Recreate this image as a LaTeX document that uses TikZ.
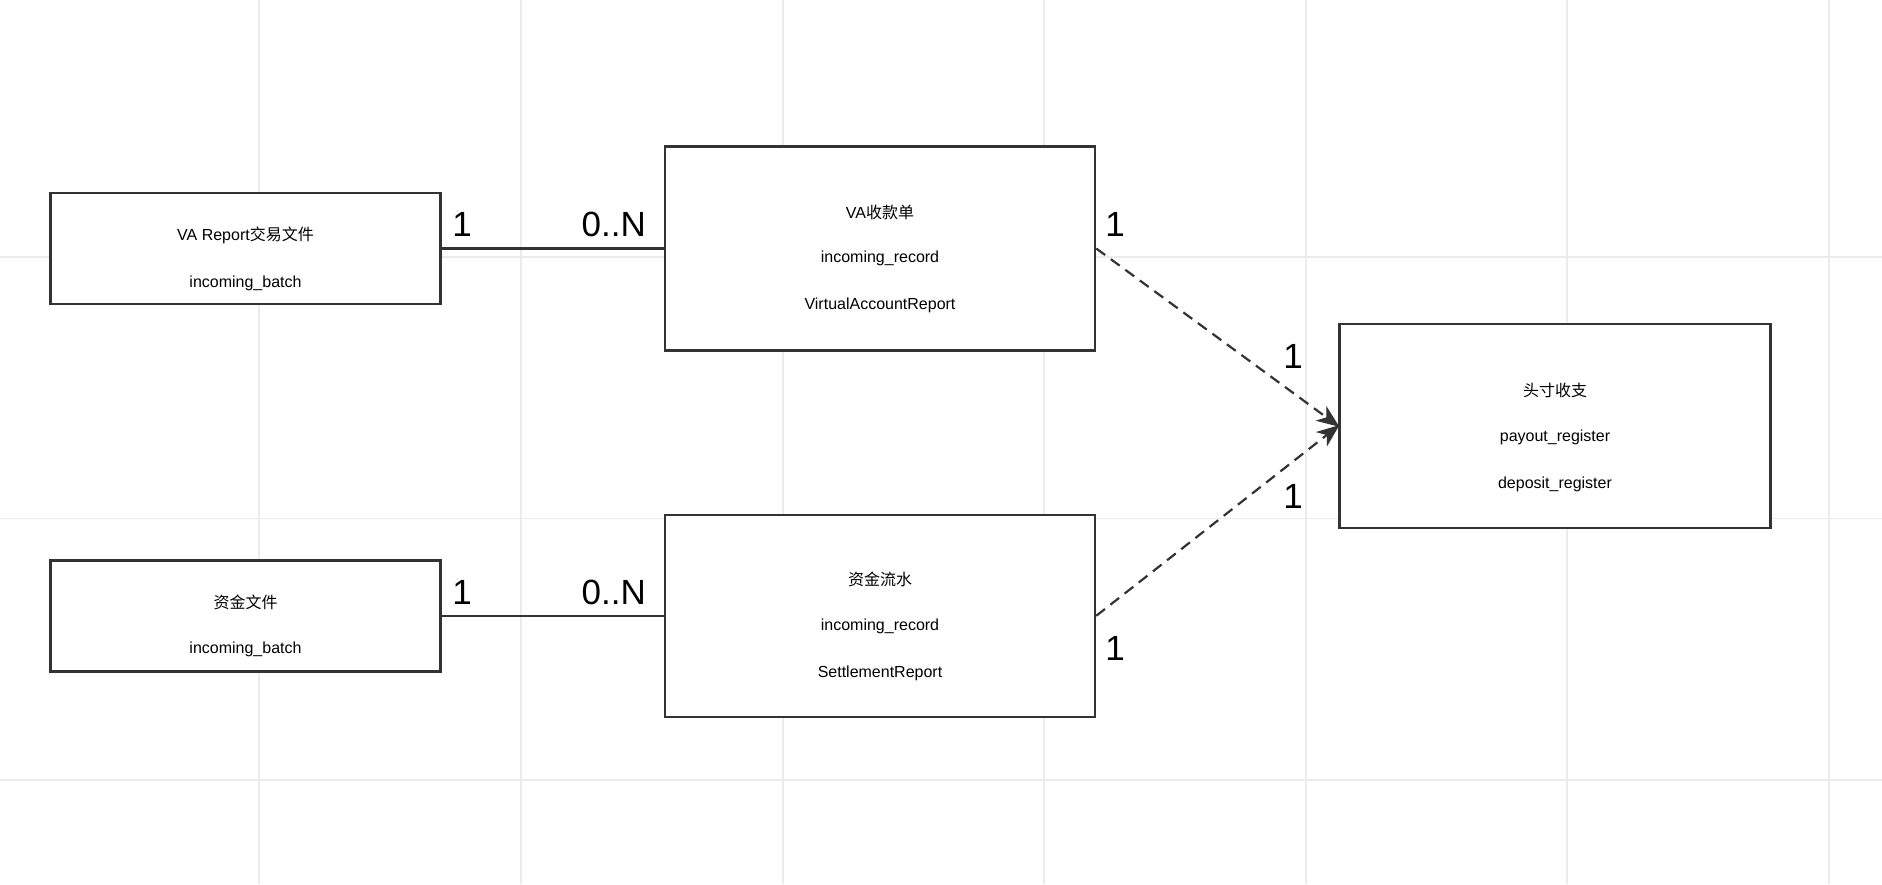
\documentclass[tikz,border=0pt]{standalone}
\usepackage{fontspec}
\setmainfont{Liberation Sans}
\newfontfamily\cjk{Noto Sans CJK SC}
\usetikzlibrary{calc}
\definecolor{gridc}{HTML}{EBEBEB}
\definecolor{linec}{HTML}{333333}
\tikzset{
  entity/.style={draw=linec, line width=2.5pt, fill=white, inner sep=0pt, minimum width=390pt},
  txt/.style={font=\fontsize{16}{19}\selectfont, text=black, inner sep=0pt},
  mult/.style={font=\fontsize{35}{40}\selectfont, text=black, inner sep=0pt},
  rel/.style={draw=linec, line width=2.2pt},
  dep/.style={draw=linec, line width=2.2pt, dash pattern=on 11pt off 7pt, shorten >=12pt},
  headfill/.style={fill=linec, draw=linec, line width=1pt, line join=miter},
  gridline/.style={draw=gridc, line width=1.2pt}
}
\begin{document}
\begin{tikzpicture}[x=1pt,y=-1pt]
\useasboundingbox (0,0) rectangle (1882,884);
\fill[white] (0,0) rectangle (1882,884);
% background grid
\foreach \gx in {259,521,783,1044,1306,1567,1829} {\draw[gridline] (\gx,0) -- (\gx,884);}
\foreach \gy in {257,518.5,780} {\draw[gridline] (0,\gy) -- (1882,\gy);}
% entities
\node[entity, minimum height=111pt] (A) at (245.5,248.5) {};
\node[entity, minimum width=430pt, minimum height=204pt] (B) at (880,248.5) {};
\node[entity, minimum width=431pt, minimum height=204pt] (C) at (1555,426) {};
\node[entity, minimum height=111pt] (D) at (245.5,615.8) {};
\node[entity, minimum width=430pt, minimum height=202pt] (E) at (880,615.8) {};
% texts
\node[txt] (A1) at (245.5,235.5) {VA Report{\cjk 交易文件}};
\node[txt] (A2) at (245.5,283) {incoming\_batch};
\node[txt] (B1) at (880,212.5) {VA{\cjk 收款单}};
\node[txt] (B2) at (880,258.5) {incoming\_record};
\node[txt] (B3) at (880,305.5) {VirtualAccountReport};
\node[txt] (C1) at (1555,390.5) {{\cjk 头寸收支}};
\node[txt] (C2) at (1555,437.5) {payout\_register};
\node[txt] (C3) at (1555,484) {deposit\_register};
\node[txt] (D1) at (245.5,602) {{\cjk 资金文件}};
\node[txt] (D2) at (245.5,649.5) {incoming\_batch};
\node[txt] (E1) at (880,579) {{\cjk 资金流水}};
\node[txt] (E2) at (880,626.5) {incoming\_record};
\node[txt] (E3) at (880,673.5) {SettlementReport};
% connectors
\draw[rel] (A.east) -- (B.west);
\draw[rel] (D.east) -- (E.west);
\draw[dep] (B.east) -- (C.west);
\draw[dep] (E.east) -- (C.west);
% arrow heads
\foreach \src in {B,E} {
  \coordinate (back\src) at ($(C.west)!20pt!(\src.east)$);
  \fill[headfill] (C.west) -- ($(back\src)!8pt!90:(C.west)$) -- ($(C.west)!14pt!(\src.east)$) -- ($(back\src)!8pt!-90:(C.west)$) -- cycle;
}
% multiplicities
\node[mult] (m1) at (462,224.5) {1};
\node[mult, anchor=east] (m2) at (646,224.5) {0..N};
\node[mult] (m3) at (1115,224.5) {1};
\node[mult] (m4) at (1293,356) {1};
\node[mult] (m5) at (1293,496) {1};
\node[mult] (m6) at (462,592) {1};
\node[mult, anchor=east] (m7) at (646,592) {0..N};
\node[mult] (m8) at (1115,648) {1};
\end{tikzpicture}
\end{document}
